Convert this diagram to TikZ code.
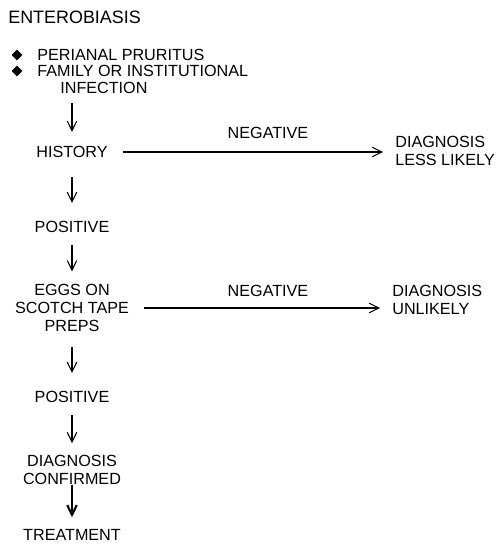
\documentclass[tikz,border=0pt]{standalone}
\usepackage{fontspec}
\setmainfont{Liberation Sans}
\usepackage{tikz}
\usetikzlibrary{positioning,shapes.geometric,arrows.meta,calc}

\begin{document}
\begin{tikzpicture}[
    x=0.02cm, y=-0.02cm,
    titlenode/.style={inner sep=0pt, anchor=west, font=\fontsize{10.2}{11}\selectfont},
    plain/.style={inner sep=0pt, align=center, font=\fontsize{9.2}{10}\selectfont},
    leftnode/.style={plain, anchor=west, align=left},
    bullet/.style={diamond, fill=black, inner sep=0pt, minimum size=6.2pt},
    flow/.style={draw=black, line width=0.6pt, -{Straight Barb[length=5.5pt, width=5.4pt]}},
    flowthick/.style={flow, line width=1.2pt}
]
\useasboundingbox (0,0) rectangle (497,544);

% Title and symptoms
\node[titlenode] (title) at (8, 17) {ENTEROBIASIS};
\node[bullet] (bul1) at (17, 55) {};
\node[bullet] (bul2) at (17, 71) {};
\node[leftnode] (sym1)  at (37, 55) {PERIANAL PRURITUS};
\node[leftnode] (sym2)  at (37, 71) {FAMILY OR INSTITUTIONAL};
\node[leftnode] (infec) at (60, 88) {INFECTION};

% Main column
\node[plain] (hist)  at (72, 152) {HISTORY};
\node[plain] (pos1)  at (72, 227) {POSITIVE};
\node[plain] (eggs)  at (72, 308) {EGGS ON\\SCOTCH TAPE\\PREPS};
\node[plain] (pos2)  at (72, 397) {POSITIVE};
\node[plain] (conf)  at (72, 470) {DIAGNOSIS\\CONFIRMED};
\node[plain] (treat) at (72, 535) {TREATMENT};

% Negative outcomes
\node[plain] (neg1) at (268, 133) {NEGATIVE};
\node[leftnode] (dll) at (395, 151) {DIAGNOSIS\\LESS LIKELY};
\node[plain] (neg2) at (268, 291) {NEGATIVE};
\node[leftnode] (dul) at (392, 300) {DIAGNOSIS\\UNLIKELY};

% Vertical arrows
\draw[flow, shorten <=5pt, shorten >=8pt] (infec.south -| hist.north) -- (hist.north);
\draw[flow, shorten <=10.8pt, shorten >=10.2pt] (hist.south) -- (pos1.north);
\draw[flow, shorten <=6.8pt, shorten >=7.4pt] (pos1.south) -- (eggs.north);
\draw[flow, shorten <=8.5pt, shorten >=10.2pt] (eggs.south) -- (pos2.north);
\draw[flow, shorten <=6.8pt, shorten >=6.8pt] (pos2.south) -- (conf.north);
\draw[flowthick, shorten >=6.8pt] (conf.south) -- (treat.north);

% Horizontal arrows
\draw[flow, shorten <=8.5pt, shorten >=6.8pt] (hist.east) -- (hist.east -| dll.west);
\draw[flow, shorten <=8.5pt, shorten >=6.8pt] (eggs.east) -- (eggs.east -| dul.west);

\end{tikzpicture}
\end{document}
